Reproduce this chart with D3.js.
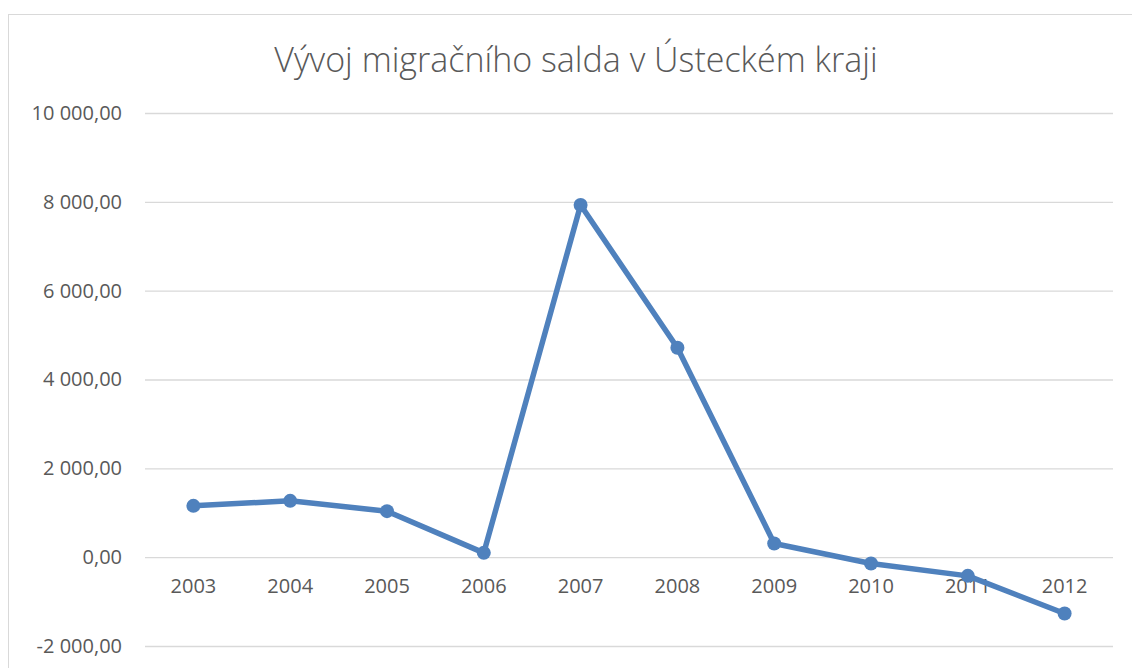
<!DOCTYPE html>
<html>
<head>
<meta charset="utf-8">
<script src="https://cdn.jsdelivr.net/npm/d3@7"></script>
<style>
  body { margin: 0; background: #fff; }
  text { font-family: "Open Sans", "Noto Sans", sans-serif; fill: #595959; }
</style>
</head>
<body>
<div class="chart"></div>
<script>
const w = 1132;
const h = 668;

// data
const years = ["2003", "2004", "2005", "2006", "2007", "2008", "2009", "2010", "2011", "2012"];
const saldo = [1155, 1268, 1036, 97, 7928, 4714, 309, -142, -421, -1268];
const yTicks = [-2000, 0, 2000, 4000, 6000, 8000, 10000];

const svg = d3
  .select(".chart")
  .append("svg")
  .attr("width", w)
  .attr("height", h);

// outer chart frame (right and bottom edges fall outside the picture)
svg.append("rect")
  .attr("x", 8.5)
  .attr("y", 14.5)
  .attr("width", w + 20)
  .attr("height", h + 20)
  .attr("fill", "none")
  .attr("stroke", "#d9d9d9");

const xScale = d3.scaleBand().domain(years).range([145, 1113]);
const yScale = d3.scaleLinear().domain([-2000, 10000]).range([646, 113]);

// title
svg.append("text")
  .attr("x", 576)
  .attr("y", 72)
  .attr("text-anchor", "middle")
  .style("font-size", "34px")
  .style("font-weight", 300)
  .text("Vývoj migračního salda v Ústeckém kraji");

// gridlines + y labels
const fmt = (v) => d3.format(",.2f")(v).replace(/,/g, " ").replace(".", ",").replace("−", "-");
const yAxis = d3.axisLeft(yScale)
  .tickValues(yTicks)
  .tickSize(-(1113 - 145))
  .tickPadding(23)
  .tickFormat(fmt);

const gy = svg.append("g")
  .attr("transform", "translate(145,0)")
  .call(yAxis);
gy.select(".domain").remove();
gy.selectAll(".tick line").attr("stroke", "#d9d9d9").attr("stroke-width", 1.3);
gy.selectAll(".tick text").style("font-size", "20px").attr("fill", "#595959");

// category labels sit under the zero line
const xAxis = d3.axisBottom(xScale).tickSize(0).tickPadding(22);
const gx = svg.append("g")
  .attr("transform", `translate(0,${yScale(0)})`)
  .call(xAxis);
gx.select(".domain").remove();
gx.selectAll(".tick text").style("font-size", "20px").attr("fill", "#595959");

// the line
const cx = (d, i) => xScale(years[i]) + xScale.bandwidth() / 2;
const line = d3.line()
  .x((d, i) => cx(d, i))
  .y((d) => yScale(d));

svg.append("path")
  .datum(saldo)
  .attr("d", line)
  .attr("fill", "none")
  .attr("stroke", "#4f81bd")
  .attr("stroke-width", 5.5)
  .attr("stroke-linejoin", "round");

svg.selectAll("circle")
  .data(saldo)
  .enter()
  .append("circle")
  .attr("cx", cx)
  .attr("cy", (d) => yScale(d))
  .attr("r", 7)
  .attr("fill", "#4f81bd");
</script>
</body>
</html>
